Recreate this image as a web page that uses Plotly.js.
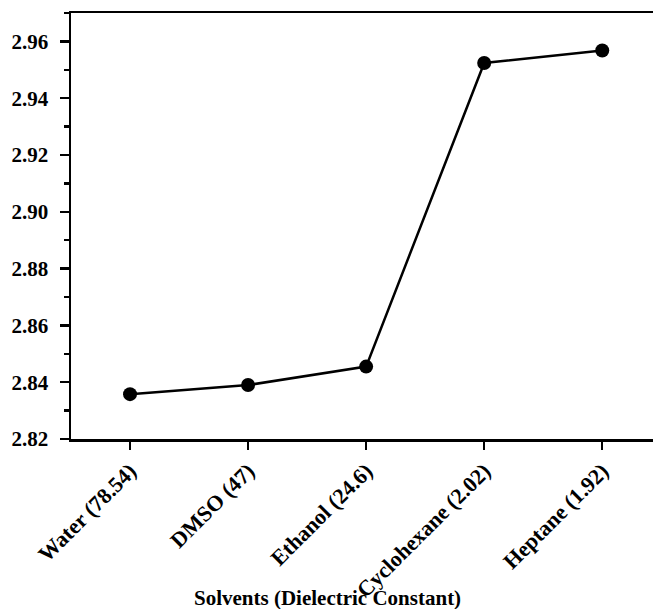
<!DOCTYPE html>
<html>
<head>
<meta charset="utf-8">
<script src="https://cdn.plot.ly/plotly-3.0.1.min.js"></script>
<style>html,body{margin:0;padding:0;background:#fff;}#chart{width:653px;height:609px;}</style>
</head>
<body>
<div id="chart"></div>
<script>
const solvents = ["Water (78.54)", "DMSO (47)", "Ethanol (24.6)", "Cyclohexane (2.02)", "Heptane (1.92)"];
const values = [2.8358, 2.8390, 2.8455, 2.9524, 2.9568];
const yTicks = [2.82, 2.84, 2.86, 2.88, 2.90, 2.92, 2.94, 2.96];
const yTickText = ["2.82", "2.84", "2.86", "2.88", "2.90", "2.92", "2.94", "2.96"];
const xTitle = "Solvents (Dielectric Constant)";

const xIdx = solvents.map((_, i) => i);
const fontFam = "'Liberation Serif', 'Times New Roman', serif";

Plotly.newPlot('chart', [{
  x: xIdx,
  y: values,
  type: 'scatter',
  mode: 'lines+markers',
  line: {color: '#000', width: 2.5},
  marker: {color: '#000', size: 14},
  hoverinfo: 'skip'
}], {
  width: 653, height: 609,
  margin: {l: 71, r: 0, t: 13, b: 170},
  paper_bgcolor: '#fff', plot_bgcolor: '#fff',
  showlegend: false,
  font: {family: fontFam, color: '#000'},
  xaxis: {
    range: [-0.5, 4.43],
    tickvals: xIdx, ticktext: solvents,
    tickangle: -45,
    showgrid: false, zeroline: false,
    showline: true, linecolor: '#000', linewidth: 2.5, mirror: true,
    ticks: 'outside', ticklen: 8, tickwidth: 2.5, tickcolor: '#000',
    tickfont: {family: fontFam, size: 22, color: '#000', weight: 'bold'},
    automargin: false
  },
  yaxis: {
    range: [2.82, 2.97],
    tickvals: yTicks, ticktext: yTickText,
    showgrid: false, zeroline: false,
    showline: true, linecolor: '#000', linewidth: 2.5, mirror: false,
    ticks: 'outside', ticklen: 9, tickwidth: 2.5, tickcolor: '#000',
    ticklabelstandoff: 7,
    minor: {ticks: 'outside', ticklen: 5, tickwidth: 2.5, tickcolor: '#000', dtick: 0.01, tick0: 2.81, showgrid: false},
    tickfont: {family: fontFam, size: 21, color: '#000', weight: 'bold'},
    automargin: false
  },
  annotations: [{
    text: '<b>' + xTitle + '</b>',
    xref: 'paper', yref: 'paper',
    x: 0.44, y: -0.373, xanchor: 'center', yanchor: 'middle',
    showarrow: false,
    font: {family: fontFam, size: 21, color: '#000'}
  }]
}, {staticPlot: true});
</script>
</body>
</html>
